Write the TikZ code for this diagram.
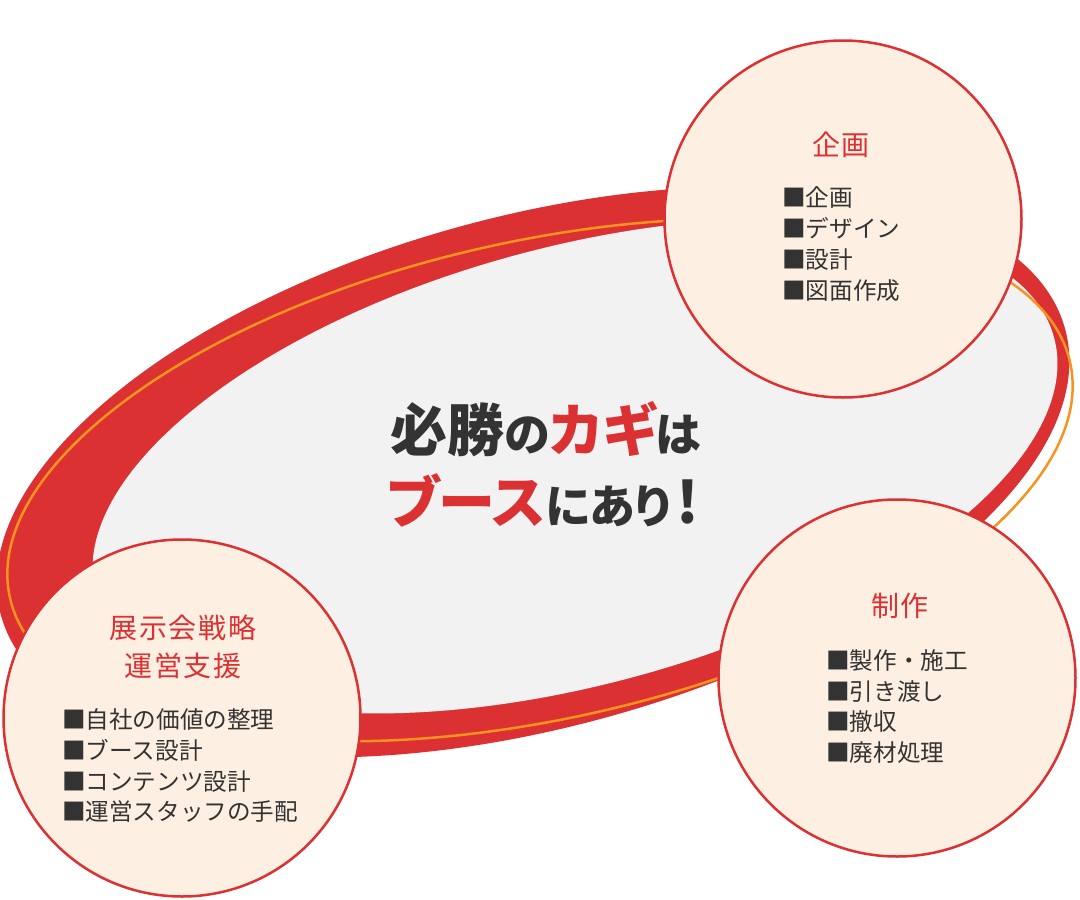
\documentclass[tikz,border=0pt]{standalone}
\usepackage{fontspec}
\setmainfont{Noto Sans CJK JP}
\usepackage{xcolor}
\usepackage{tikz}

\definecolor{ringred}{HTML}{DC3132}
\definecolor{ringorange}{HTML}{F7931E}
\definecolor{ringgray}{HTML}{F2F2F2}
\definecolor{bubblefill}{HTML}{FDF0E2}
\definecolor{ink}{HTML}{333333}
\newcommand\kana[1]{{\fontsize{46}{46}\selectfont #1}}

\begin{document}
\begin{tikzpicture}[x=1pt,y=-1pt,
  bubble/.style={circle,minimum size=357pt,draw=ringred,line width=2.5pt,fill=bubblefill,inner sep=0pt},
  head/.style={anchor=base,inner sep=0pt,text=ringred,font=\fontsize{28}{30}\selectfont\addfontfeature{LetterSpace=6}},
  item/.style={anchor=base west,inner sep=0pt,text=ink,font=\fontsize{23.6}{31}\selectfont},
  catch/.style={anchor=base,inner sep=0pt,text=ink,font=\fontsize{57}{60}\selectfont\bfseries\addfontfeature{RawFeature=+palt}}]
\useasboundingbox (0,0) rectangle (1080,900);

\fill[ringred,rotate around={15:(533,472)}] (533,472) ellipse [x radius=551pt,y radius=256pt];
\fill[ringgray,rotate around={15:(575,466)}] (575,466) ellipse [x radius=496pt,y radius=219pt];
\draw[ringorange,line width=2.5pt,rotate around={12.5:(540,480)}] (540,480) ellipse [x radius=543pt,y radius=239pt];

\node (key1)[catch] at (546,451) {必勝\kana{の}\textcolor{ringred}{カギ}\kana{は}};
\node (key2)[catch] at (543,523) {\textcolor{ringred}{ブース}\kana{にあり}\hspace{5pt}!};

\node (plan)[bubble] at (843,219) {};
\node (planhead)[head] at (841,155) {企画};
\node (plan1)[item] at (782,206) {■企画};
\node (plan2)[item] at (782,237) {■デザイン};
\node (plan3)[item] at (782,268) {■設計};
\node (plan4)[item] at (782,299) {■図面作成};

\node (make)[bubble] at (897,678) {};
\node (makehead)[head] at (900,616) {制作};
\node (make1)[item] at (826,669) {■製作・施工};
\node (make2)[item] at (826,700) {■引き渡し};
\node (make3)[item] at (826,730) {■撤収};
\node (make4)[item] at (826,761) {■廃材処理};

\node (support)[bubble] at (182,718) {};
\node (supporthead1)[head] at (183,638) {展示会戦略};
\node (supporthead2)[head] at (183,676) {運営支援};
\node (support1)[item] at (62,728) {■自社の価値の整理};
\node (support2)[item] at (62,759) {■ブース設計};
\node (support3)[item] at (62,790) {■コンテンツ設計};
\node (support4)[item] at (62,820) {■運営スタッフの手配};
\end{tikzpicture}
\end{document}
